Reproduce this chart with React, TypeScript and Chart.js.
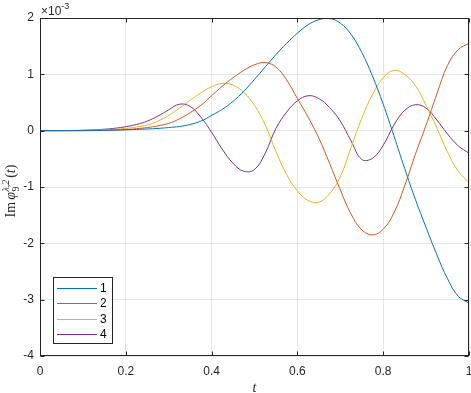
import React, { useEffect, useRef } from "react";
import { Chart, registerables } from "chart.js";

Chart.register(...registerables);

// time samples
const T = [
  0, 0.025, 0.05, 0.075, 0.1, 0.125, 0.15, 0.175, 0.2, 0.225, 0.25, 0.275, 0.3, 0.325,
  0.35, 0.375, 0.4, 0.425, 0.45, 0.475, 0.5, 0.525, 0.55, 0.575, 0.6, 0.625, 0.65, 0.675,
  0.7, 0.725, 0.75, 0.775, 0.8, 0.825, 0.85, 0.875, 0.9, 0.925, 0.95, 0.975, 1,
];

// values in units of 1e-3
const S1 = [
  0, 0, 0, 0, 0.001, 0.002, 0.005, 0.009, 0.015, 0.022, 0.03, 0.04, 0.055, 0.075,
  0.11, 0.17, 0.27, 0.38, 0.52, 0.7, 0.91, 1.13, 1.35, 1.55, 1.73, 1.88, 1.97, 1.99,
  1.91, 1.71, 1.39, 0.97, 0.47, -0.09, -0.67, -1.22, -1.72, -2.2, -2.63, -2.94, -3.06,
];
const S2 = [
  0, 0, 0, 0, 0.001, 0.003, 0.007, 0.013, 0.02, 0.035, 0.055, 0.085, 0.13, 0.21,
  0.32, 0.45, 0.62, 0.79, 0.94, 1.07, 1.17, 1.21, 1.13, 0.9, 0.57, 0.24, -0.13, -0.58,
  -1.05, -1.48, -1.76, -1.85, -1.75, -1.46, -0.98, -0.42, 0.1, 0.65, 1.16, 1.44, 1.55,
];
const S3 = [
  0, 0, 0, 0.001, 0.003, 0.008, 0.015, 0.025, 0.04, 0.065, 0.1, 0.17, 0.27, 0.4,
  0.54, 0.67, 0.78, 0.84, 0.81, 0.68, 0.45, 0.1, -0.37, -0.78, -1.07, -1.24, -1.27, -1.12,
  -0.82, -0.3, 0.22, 0.64, 0.94, 1.07, 1.0, 0.8, 0.45, 0.05, -0.38, -0.72, -0.92,
];
const S4 = [
  0, 0, 0.001, 0.003, 0.008, 0.015, 0.026, 0.043, 0.07, 0.11, 0.17, 0.26, 0.37, 0.47,
  0.43, 0.24, -0.03, -0.33, -0.58, -0.72, -0.69, -0.4, 0.04, 0.33, 0.53, 0.62, 0.57, 0.41,
  0.17, -0.18, -0.51, -0.49, -0.26, 0.1, 0.36, 0.46, 0.4, 0.19, -0.06, -0.27, -0.4,
];

const SERIES = [S1, S2, S3, S4];
const SERIES_LABELS = ["1", "2", "3", "4"];
const COLORS = ["#0072BD", "#D95319", "#EDB120", "#7E2F8E"];

const X_TICKS = [0, 0.2, 0.4, 0.6, 0.8, 1];
const X_TICK_LABELS = ["0", "0.2", "0.4", "0.6", "0.8", "1"];
const Y_TICKS = [-4, -3, -2, -1, 0, 1, 2];
const Y_TICK_LABELS = ["-4", "-3", "-2", "-1", "0", "1", "2"];
const EXPONENT = "-3";

const AX = "#262626";
const GRID = "rgba(38,38,38,0.11)";
const SANS = "'Liberation Sans', Arial, Helvetica, sans-serif";
const SERIF = "'Liberation Serif', 'Times New Roman', serif";

export default function App() {
  const ref = useRef<HTMLCanvasElement>(null);

  useEffect(() => {
    const canvas = ref.current!;
    const plugin = {
      id: "matlabDecor",
      afterDraw(chart: any) {
        const ctx = chart.ctx as CanvasRenderingContext2D;
        const { left, right, top, bottom } = chart.chartArea;
        const xs = chart.scales.x;
        const ys = chart.scales.y;
        ctx.save();
        // box
        ctx.strokeStyle = AX;
        ctx.lineWidth = 1;
        const L = Math.round(left) + 0.5;
        const R = Math.round(right) - 0.5;
        const Tp = Math.round(top) + 0.5;
        const B = Math.round(bottom) - 0.5;
        ctx.strokeRect(L, Tp, R - L, B - Tp);
        // inward ticks
        const tl = 4;
        ctx.beginPath();
        X_TICKS.forEach((v) => {
          const px = Math.round(xs.getPixelForValue(v)) + 0.5;
          ctx.moveTo(px, B);
          ctx.lineTo(px, B - tl);
          ctx.moveTo(px, Tp);
          ctx.lineTo(px, Tp + tl);
        });
        Y_TICKS.forEach((v) => {
          const py = Math.round(ys.getPixelForValue(v)) + 0.5;
          ctx.moveTo(L, py);
          ctx.lineTo(L + tl, py);
          ctx.moveTo(R, py);
          ctx.lineTo(R - tl, py);
        });
        ctx.stroke();

        // exponent label
        ctx.fillStyle = AX;
        ctx.textBaseline = "alphabetic";
        ctx.textAlign = "left";
        ctx.font = `12px ${SANS}`;
        const base = "\u00d710";
        ctx.fillText(base, left + 1, top - 3);
        const bw = ctx.measureText(base).width;
        ctx.font = `9px ${SANS}`;
        ctx.fillText(EXPONENT, left + 1 + bw, top - 9);

        // x title
        ctx.font = `italic 14px ${SERIF}`;
        ctx.textAlign = "center";
        ctx.fillText("t", (left + right) / 2, 392);

        // y title (rotated)
        ctx.textAlign = "left";
        const fMain = `14px ${SERIF}`;
        const fIt = `italic 14px ${SERIF}`;
        const fSmall = `10px ${SERIF}`;
        const fSmallIt = `italic 10px ${SERIF}`;
        const meas = (t: string, f: string) => {
          ctx.font = f;
          return ctx.measureText(t).width;
        };
        const wIm = meas("Im", fMain);
        const wPhi = meas("\u03c6", fIt);
        const wSub = meas("9", fSmall);
        const wSup = meas("\u03bb,2", fSmallIt);
        const wL = meas("(", fMain);
        const wt = meas("t", fIt);
        const wR = meas(")", fMain);
        const gap1 = 2;
        const gap2 = 2;
        const total = wIm + gap1 + wPhi + 0.5 + Math.max(wSub, wSup) + gap2 + wL + wt + wR;
        ctx.translate(15, 191);
        ctx.rotate(-Math.PI / 2);
        let x = -total / 2;
        ctx.font = fMain;
        ctx.fillText("Im", x, 0);
        x += wIm + gap1;
        ctx.font = fIt;
        ctx.fillText("\u03c6", x, 0);
        x += wPhi + 0.5;
        ctx.font = fSmall;
        ctx.fillText("9", x, 3.5);
        ctx.font = fSmallIt;
        ctx.fillText("\u03bb,2", x, -6);
        x += Math.max(wSub, wSup) + gap2;
        ctx.font = fMain;
        ctx.fillText("(", x, 0);
        x += wL;
        ctx.font = fIt;
        ctx.fillText("t", x, 0);
        x += wt;
        ctx.font = fMain;
        ctx.fillText(")", x, 0);
        ctx.setTransform(1, 0, 0, 1, 0, 0);

        // legend
        const lx = 53.5, ly = 277.5, lw = 59, lh = 66;
        ctx.fillStyle = "#ffffff";
        ctx.fillRect(lx, ly, lw, lh);
        ctx.strokeStyle = AX;
        ctx.lineWidth = 1;
        ctx.strokeRect(lx, ly, lw, lh);
        const rows = [287.5, 303, 318.5, 334];
        chart.data.datasets.forEach((ds: any, i: number) => {
          const y = Math.round(rows[i]) + 0.5;
          ctx.strokeStyle = ds.borderColor;
          ctx.lineWidth = 1;
          ctx.beginPath();
          ctx.moveTo(57, y);
          ctx.lineTo(97, y);
          ctx.stroke();
          ctx.fillStyle = "#000000";
          ctx.font = `12px ${SANS}`;
          ctx.textBaseline = "middle";
          ctx.textAlign = "left";
          ctx.fillText(ds.label, 100, y + 0.5);
        });
        ctx.restore();
      },
    };

    const chart = new Chart(canvas, {
      type: "line",
      data: {
        datasets: SERIES.map((s, i) => ({
          label: SERIES_LABELS[i],
          data: T.map((t, j) => ({ x: t, y: s[j] })),
          borderColor: COLORS[i],
          backgroundColor: COLORS[i],
          borderWidth: 1,
          pointRadius: 0,
          tension: 0.4,
          fill: false,
        })),
      },
      options: {
        animation: false,
        responsive: false,
        devicePixelRatio: 1,
        layout: { padding: { top: 18, right: 2, left: 0, bottom: 0 } },
        plugins: {
          legend: { display: false },
          tooltip: { enabled: false },
          title: { display: false },
        },
        scales: {
          x: {
            type: "linear",
            min: 0,
            max: 1,
            afterBuildTicks: (s: any) => {
              s.ticks = X_TICKS.map((v) => ({ value: v }));
            },
            ticks: {
              callback: (_v: any, i: number) => X_TICK_LABELS[i],
              font: { family: SANS, size: 12 },
              color: AX,
              padding: 8,
              maxRotation: 0,
              autoSkip: false,
            },
            grid: { color: GRID, drawTicks: false, lineWidth: 1 },
            border: { display: false },
            afterFit: (s: any) => {
              s.height = 37;
              s.paddingLeft = 0;
              s.paddingRight = 0;
            },
          },
          y: {
            type: "linear",
            min: -4,
            max: 2,
            afterBuildTicks: (s: any) => {
              s.ticks = Y_TICKS.map((v) => ({ value: v }));
            },
            ticks: {
              callback: (_v: any, i: number) => Y_TICK_LABELS[i],
              font: { family: SANS, size: 12 },
              color: AX,
              padding: 6,
              autoSkip: false,
            },
            grid: { color: GRID, drawTicks: false, lineWidth: 1 },
            border: { display: false },
            afterFit: (s: any) => {
              s.width = 40;
              s.paddingTop = 0;
              s.paddingBottom = 0;
            },
          },
        },
      } as any,
      plugins: [plugin],
    });
    return () => chart.destroy();
  }, []);

  return (
    <div style={{ position: "fixed", left: 0, top: 0, width: 471, height: 393, background: "#fff" }}>
      <canvas ref={ref} width={471} height={393} style={{ display: "block", width: 471, height: 393 }} />
    </div>
  );
}
